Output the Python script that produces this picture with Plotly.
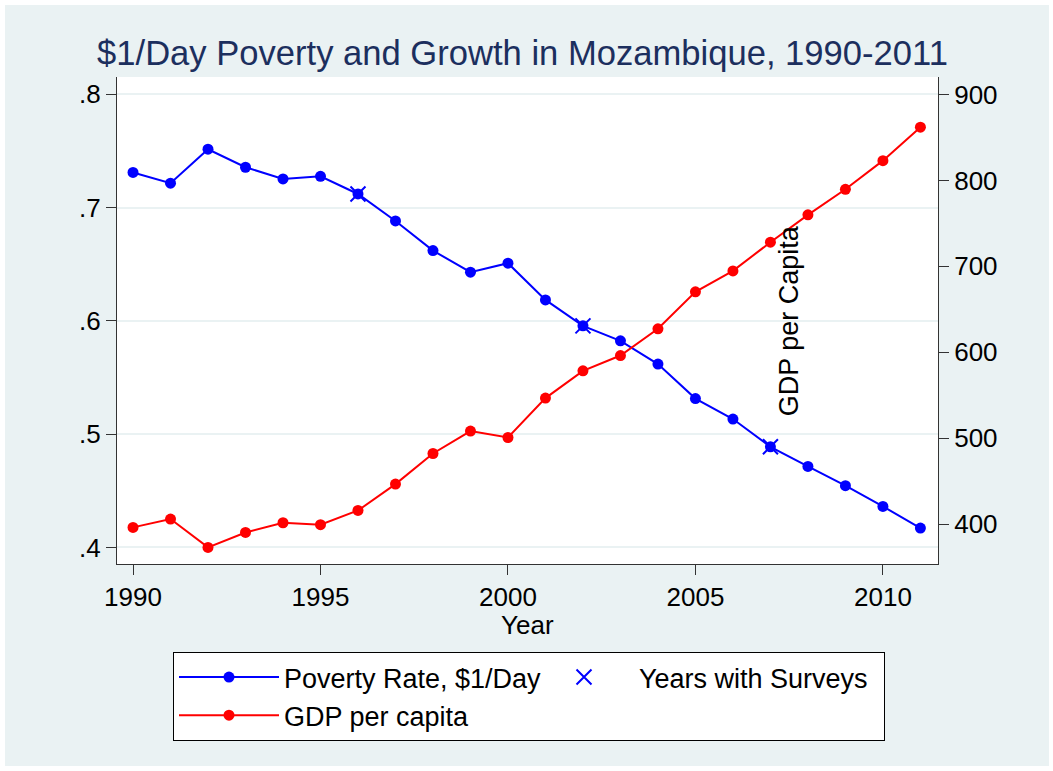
import plotly.graph_objects as go

# ---------------- data ----------------
years = list(range(1990, 2012))
poverty_rate = [0.731, 0.7215, 0.7515, 0.7356, 0.7253, 0.7276, 0.712, 0.6882,
                0.662, 0.643, 0.6509, 0.6185, 0.5956, 0.5824, 0.5618, 0.5314,
                0.5133, 0.4888, 0.4715, 0.4545, 0.4362, 0.4171]
gdp_per_capita = [396.2, 405.9, 372.9, 390.3, 401.6, 399.3, 415.9, 446.6,
                  482.2, 508.3, 500.8, 546.7, 578.4, 596.2, 627.3, 670.3,
                  694.7, 728.1, 759.9, 789.7, 823.0, 861.9]
survey_years = [1996, 2002, 2007]
survey_poverty = [poverty_rate[years.index(y)] for y in survey_years]

x_ticks = [1990, 1995, 2000, 2005, 2010]
left_ticks = [0.4, 0.5, 0.6, 0.7, 0.8]
left_labels = ['.4', '.5', '.6', '.7', '.8']
right_ticks = [400, 500, 600, 700, 800, 900]
right_labels = ['400', '500', '600', '700', '800', '900']

# ---------------- style ----------------
FONT = 'Liberation Sans, Arial, sans-serif'
BG = '#EAF2F3'
AXIS = '#333333'
W, H = 1053, 771
L, R, T, B = 117, 115, 77, 207
PW, PH = W - L - R, H - T - B


def px_x(px):
    return (px - L) / PW


def px_y(py):
    return (H - B - py) / PH


fig = go.Figure()
fig.add_trace(go.Scatter(
    x=years, y=poverty_rate, mode='lines+markers', name='Poverty Rate, $1/Day',
    line=dict(color='#0000FF', width=2), marker=dict(color='#0000FF', size=11)))
fig.add_trace(go.Scatter(
    x=survey_years, y=survey_poverty, mode='markers', name='Years with Surveys',
    marker=dict(symbol='x-thin', size=15, color='#0000FF',
                line=dict(color='#0000FF', width=2))))
fig.add_trace(go.Scatter(
    x=years, y=gdp_per_capita, mode='lines+markers', name='GDP per capita',
    yaxis='y2', line=dict(color='#FF0000', width=2),
    marker=dict(color='#FF0000', size=11)))

fig.update_layout(
    width=W, height=H,
    margin=dict(l=L, r=R, t=T, b=B, autoexpand=False),
    paper_bgcolor='white', plot_bgcolor='white',
    font=dict(family=FONT, size=26, color='black'),
    title=dict(text='$1/Day Poverty and Growth in Mozambique, 1990-2011',
               font=dict(family=FONT, size=34.6, color='#1C2F5E'),
               x=522.5 / W, xref='container', xanchor='center',
               y=1 - 53 / H, yref='container', yanchor='middle'),
    xaxis=dict(range=[1989.573, 2011.469], tickvals=x_ticks,
               ticks='outside', ticklen=10, tickwidth=1, tickcolor=AXIS,
               showline=True, linecolor=AXIS, linewidth=1,
               showgrid=False, zeroline=False,
               tickfont=dict(size=26)),
    yaxis=dict(range=[0.38536, 0.81526], tickvals=left_ticks, ticktext=left_labels,
               ticks='outside', ticklen=10, tickwidth=1, tickcolor=AXIS,
               showline=True, linecolor=AXIS, linewidth=1,
               showgrid=True, gridcolor=BG, gridwidth=2, zeroline=False,
               tickfont=dict(size=26)),
    yaxis2=dict(range=[353.6, 920.35], tickvals=right_ticks, ticktext=right_labels,
                overlaying='y', side='right',
                ticks='outside', ticklen=10, tickwidth=1, tickcolor=AXIS,
                showline=True, linecolor=AXIS, linewidth=1,
                showgrid=False, zeroline=False,
                tickfont=dict(size=26)),
    legend=dict(orientation='h', x=px_x(173), xanchor='left',
                y=px_y(652), yanchor='top',
                bgcolor='white', bordercolor='black', borderwidth=1,
                itemwidth=100, entrywidth=240,
                font=dict(size=27), traceorder='normal'),
    shapes=[
        dict(type='rect', xref='paper', yref='paper', layer='below',
             x0=px_x(5), x1=px_x(1049), y0=px_y(766), y1=px_y(5),
             fillcolor=BG, line=dict(width=0)),
        dict(type='rect', xref='paper', yref='paper', layer='below',
             x0=0, x1=1, y0=0, y1=1, fillcolor='white', line=dict(width=0)),
    ],
    annotations=[
        dict(text='GDP per Capita', x=2007.49, xref='x', y=0.5, yref='paper',
             textangle=-90, showarrow=False, font=dict(size=27, color='black'),
             xanchor='center', yanchor='middle'),
        dict(text='Year', x=0.5, xref='paper', y=px_y(625), yref='paper',
             showarrow=False, font=dict(size=26, color='black'),
             xanchor='center', yanchor='middle'),
    ],
)

fig.write_html('out.html', config={'displayModeBar': False},
               post_script="document.body.style.margin='0';"
                           "document.body.style.overflow='hidden';")
